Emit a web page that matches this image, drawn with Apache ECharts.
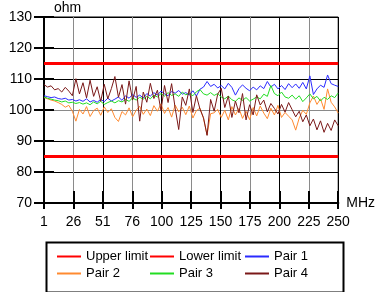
<!DOCTYPE html>
<html>
<head>
<meta charset="utf-8">
<script src="https://cdn.jsdelivr.net/npm/echarts@6/dist/echarts.min.js"></script>
<style>
  html, body { margin: 0; padding: 0; background: #fff; }
  #chart { width: 378px; height: 292px; }
</style>
</head>
<body>
<div id="chart"></div>
<script>
// frequency, MHz
const freq = [
  1, 4, 7, 10, 13, 16, 19, 22, 25, 28,
  31, 34, 37, 40, 43, 46, 49, 52, 55, 58,
  61, 64, 67, 70, 73, 76, 79, 82, 85, 88,
  91, 94, 97, 100, 103, 106, 109, 112, 115, 118,
  121, 124, 127, 130, 133, 136, 139, 142, 145, 148,
  151, 154, 157, 160, 163, 166, 169, 172, 175, 178,
  181, 184, 187, 190, 193, 196, 199, 202, 205, 208,
  211, 214, 217, 220, 223, 226, 229, 232, 235, 238,
  241, 244, 247, 250,
]

const pair1 = [
  104.6, 104.3, 104.0, 104.2, 103.7, 103.5, 103.8, 103.2, 103.4, 102.9,
  103.3, 102.8, 103.6, 102.6, 103.1, 102.5, 103.4, 102.7, 103.8, 102.9,
  103.5, 104.2, 103.1, 104.6, 103.8, 105.0, 104.1, 104.8, 103.9, 105.3,
  104.5, 105.6, 104.8, 106.1, 105.2, 104.6, 106.0, 105.4, 106.3, 105.1,
  105.6, 104.8, 106.2, 104.5, 106.7, 107.4, 109.2, 107.6, 108.3, 107.1,
  107.9, 106.8, 108.6, 107.3, 104.8, 106.9, 108.1, 107.0, 106.2, 107.4,
  106.5, 107.8, 106.9, 109.2, 107.4, 108.3, 106.8, 107.9, 106.6, 108.5,
  107.2, 108.4, 107.0, 108.9, 106.8, 111.0, 105.0, 106.8, 108.0, 107.3,
  111.3, 108.5, 108.0, 107.6,
]

const pair2 = [
  104.0, 103.6, 103.2, 102.9, 102.4, 101.8, 100.9, 101.5, 99.6, 96.4,
  100.2, 98.7, 101.1, 97.9, 99.8, 100.6, 98.3, 101.0, 99.2, 100.4,
  97.6, 96.3, 99.5, 98.4, 100.7, 97.8, 99.9, 101.2, 98.6, 100.3,
  98.2, 101.4, 99.6, 102.0, 98.9, 100.8, 97.7, 101.6, 99.4, 100.9,
  98.5, 101.3, 97.4, 99.8, 100.6, 97.2, 92.0, 98.8, 99.1, 100.2,
  97.6, 99.9, 96.8, 101.1, 98.4, 100.5, 97.3, 99.6, 96.9, 100.8,
  98.1, 101.3, 99.0, 97.2, 100.6, 98.4, 101.5, 97.6, 99.2, 98.0,
  96.8, 93.5, 97.4, 99.9, 98.6, 102.3, 104.5, 101.8, 103.6, 100.2,
  106.8, 102.5, 101.0, 99.0,
]

const pair3 = [
  104.2, 103.8, 103.5, 103.2, 103.0, 102.6, 102.9, 102.3, 102.5, 102.1,
  102.4, 101.9, 102.3, 101.7, 102.6, 102.0, 102.8, 101.8, 102.4, 102.9,
  102.3, 103.0, 102.6, 103.4, 102.8, 103.9, 103.2, 104.1, 103.5, 104.4,
  103.6, 104.8, 104.2, 105.3, 104.5, 105.6, 104.7, 105.2, 104.4, 105.8,
  104.9, 105.4, 104.6, 105.9, 106.6, 105.2, 104.8, 105.6, 104.7, 105.3,
  104.2, 103.6, 104.5, 103.3, 102.8, 103.9, 103.1, 104.0, 102.9, 103.5,
  104.2, 103.6, 105.1, 104.4, 107.9, 105.3, 104.6, 105.8, 104.2, 103.8,
  104.8, 103.5, 104.6, 102.7, 103.9, 105.2, 103.6, 104.4, 102.9, 104.1,
  103.4, 104.6, 104.0, 105.5,
]

const pair4 = [
  108.2, 107.4, 107.8, 106.5, 106.9, 105.8, 107.3, 106.1, 104.6, 110.1,
  105.2, 108.8, 103.9, 109.6, 104.4, 107.5, 102.8, 108.3, 103.6, 106.9,
  110.8, 104.1, 108.2, 101.9, 109.4, 103.2, 107.6, 96.4, 105.8, 102.5,
  108.6, 103.7, 106.4, 99.8, 107.9, 102.4, 108.5, 100.6, 93.7, 104.2,
  101.5, 106.8, 99.2, 104.6, 100.3, 97.5, 91.8, 103.4, 99.6, 105.1,
  107.0, 100.8, 104.5, 97.6, 102.9, 99.1, 105.3, 96.8, 101.7, 98.4,
  104.9, 101.6, 103.2, 99.4, 102.1, 100.5, 98.7, 101.8, 99.3, 102.4,
  100.1, 97.8, 99.6, 96.2, 98.4, 94.9, 97.1, 93.6, 96.5, 92.8,
  95.7, 93.4, 96.8, 94.9,
]

const limitFreq = [1, 250]
const upperLimit = [115, 115]
const lowerLimit = [85, 85]

const xTickLabels = ['1', '26', '51', '76', '100', '125', '150', '175', '200', '225', '250']

const myChart = echarts.init(document.getElementById('chart'))

// x axis runs from 0 (= 1 MHz) to 249 (= 250 MHz)
const toPoints = (fs, vs) => fs.map((f, i) => [f - 1, vs[i]])
const xStep = 24.9

const font = 'Arial, "Liberation Sans", sans-serif'

// axisIndex 1 = the copy of each axis that only carries the inner ticks
const lineSeries = (name, fs, vs, color, width, axisIndex) => ({
  name,
  type: 'line',
  xAxisIndex: axisIndex,
  yAxisIndex: axisIndex,
  data: toPoints(fs, vs),
  symbol: 'none',
  lineStyle: { color, width },
  itemStyle: { color },
})

const option = {
  animation: false,
  grid: {
    left: 44,
    right: 37,
    top: 17,
    bottom: 89,
    show: true,
    borderColor: '#000',
    borderWidth: 1,
  },
  xAxis: [
    {
      type: 'value',
      min: 0,
      max: 249,
      interval: xStep,
      name: 'MHz',
      nameLocation: 'end',
      nameGap: 8,
      nameTextStyle: { color: '#000', fontSize: 14, fontFamily: font },
      axisLine: { show: true, lineStyle: { color: '#000', width: 2 } },
      axisTick: { show: true, length: 6, lineStyle: { color: '#000', width: 2 } },
      axisLabel: {
        color: '#000',
        fontSize: 14,
        fontFamily: font,
        margin: 12,
        formatter: (v) => xTickLabels[Math.round(v / xStep)],
      },
      splitLine: { show: true, lineStyle: { color: ['#000', '#8a8a8a'], width: 1 } },
    },
    {
      type: 'value',
      position: 'bottom',
      min: 0,
      max: 249,
      interval: xStep,
      axisLine: { show: true, lineStyle: { color: '#000', width: 2 } },
      axisTick: { show: true, inside: true, length: 12, lineStyle: { color: '#000', width: 2 } },
      axisLabel: { show: true, color: 'rgba(0,0,0,0)' },
      splitLine: { show: false },
    },
  ],
  yAxis: [
    {
      type: 'value',
      min: 70,
      max: 130,
      interval: 10,
      name: 'ohm',
      nameLocation: 'end',
      nameGap: 2,
      nameTextStyle: { color: '#000', fontSize: 14, fontFamily: font, align: 'left', padding: [0, 0, 0, 10] },
      axisLine: { show: true, lineStyle: { color: '#000', width: 2 } },
      axisTick: { show: true, length: 10, lineStyle: { color: '#000', width: 2 } },
      axisLabel: { color: '#000', fontSize: 14, fontFamily: font, margin: 12 },
      splitLine: {
        show: true,
        lineStyle: { color: ['#000', '#000', '#000', '#8a8a8a', '#000', '#000', '#000'], width: 1 },
      },
    },
    {
      type: 'value',
      position: 'left',
      min: 70,
      max: 130,
      interval: 10,
      axisLine: { show: true, lineStyle: { color: '#000', width: 2 } },
      axisTick: { show: true, inside: true, length: 10, lineStyle: { color: '#000', width: 2 } },
      axisLabel: { show: true, color: 'rgba(0,0,0,0)' },
      splitLine: { show: false },
    },
  ],
  legend: [
    { left: 51, data: ['Upper limit', 'Pair 2'] },
    { left: 144, data: ['Lower limit', 'Pair 3'] },
    { left: 239, data: ['Pair 1', 'Pair 4'] },
  ].map((l) => ({
    ...l,
    top: 245,
    orient: 'vertical',
    itemWidth: 24,
    itemHeight: 14,
    itemGap: 4,
    // 只要线，不要小圆点
    itemStyle: { opacity: 0 },
    textStyle: { color: '#000', fontSize: 13, fontFamily: font },
  })),
  graphic: [
    {
      type: 'rect',
      left: 44,
      top: 240,
      shape: { width: 297, height: 50 },
      style: { fill: 'none', stroke: '#000', lineWidth: 2 },
      silent: true,
    },
  ],
  series: [
    lineSeries('Upper limit', limitFreq, upperLimit, '#ff0000', 3, 1),
    lineSeries('Lower limit', limitFreq, lowerLimit, '#ff0000', 3, 1),
    lineSeries('Pair 1', freq, pair1, '#2a2aff', 1, 0),
    lineSeries('Pair 2', freq, pair2, '#ff8a30', 1, 0),
    lineSeries('Pair 3', freq, pair3, '#22dd22', 1, 0),
    lineSeries('Pair 4', freq, pair4, '#7a1818', 1, 0),
  ],
}

myChart.setOption(option)
</script>
</body>
</html>
